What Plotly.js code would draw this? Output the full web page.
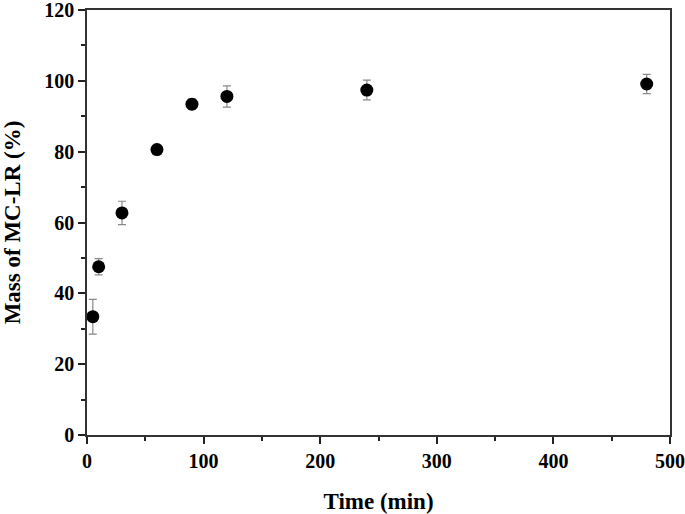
<!DOCTYPE html>
<html>
<head>
<script src="https://cdn.plot.ly/plotly-3.0.1.min.js"></script>
<style>body{margin:0}</style>
</head>
<body>
<div id="myDiv" style="width:685px;height:514px"></div>
<script>
var timeMin = [5, 10, 30, 60, 90, 120, 240, 480];
var massPct = [33.4, 47.5, 62.7, 80.6, 93.4, 95.6, 97.4, 99.1];
var errPct = [4.9, 2.3, 3.3, 0.6, 1.5, 3.0, 2.8, 2.7];

var trace1 = {
  x: timeMin,
  y: massPct,
  mode: 'markers',
  type: 'scatter',
  marker: { size: 13, color: 'black' },
  error_y: { type: 'data', array: errPct, visible: true, color: '#888', thickness: 1.2, width: 4 }
};

var fam = 'Liberation Serif, Times New Roman, serif';

var layout = {
  width: 685,
  height: 514,
  margin: { l: 87, r: 15, t: 10, b: 79 },
  showlegend: false,
  plot_bgcolor: 'white',
  paper_bgcolor: 'white',
  font: { family: fam, size: 20, color: 'black' },
  xaxis: {
    range: [0, 500],
    tickmode: 'linear', tick0: 0, dtick: 100,
    ticks: 'outside', ticklen: 7, tickwidth: 1.5, tickcolor: '#222',
    minor: { dtick: 50, ticks: 'outside', ticklen: 4, tickwidth: 1.5, tickcolor: '#222' },
    showline: true, linecolor: '#333', linewidth: 1.5, mirror: true,
    showgrid: false, zeroline: false, automargin: false, ticklabeloverflow: 'allow',
    tickfont: { family: fam, size: 20, color: 'black', weight: 'bold' },
    title: { text: 'Time (min)', font: { family: fam, size: 23, color: 'black', weight: 'bold' }, standoff: 22 }
  },
  yaxis: {
    range: [0, 120],
    tickmode: 'linear', tick0: 0, dtick: 20,
    ticks: 'outside', ticklen: 7, tickwidth: 1.5, tickcolor: '#222',
    minor: { dtick: 10, ticks: 'outside', ticklen: 4, tickwidth: 1.5, tickcolor: '#222' },
    showline: true, linecolor: '#333', linewidth: 1.5, mirror: true,
    showgrid: false, zeroline: false, automargin: false, ticklabeloverflow: 'allow',
    tickfont: { family: fam, size: 20, color: 'black', weight: 'bold' },
    title: { text: 'Mass of MC-LR (%)', font: { family: fam, size: 23, color: 'black', weight: 'bold' }, standoff: 17 }
  }
};

Plotly.newPlot('myDiv', [trace1], layout, { displayModeBar: false });
</script>
</body>
</html>
